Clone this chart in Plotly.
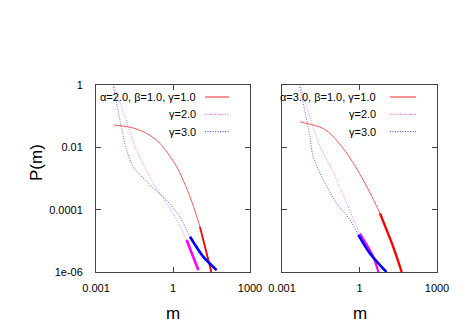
import plotly.graph_objects as go

# ---- data ----
# left panel: alpha=2.0, beta=1.0
l_g1_x = [0.005, 0.016, 0.03, 0.069, 0.15, 0.31, 1.38, 4.6, 11.2, 27.6, 31]
l_g1_y = [0.052, 0.046, 0.041, 0.032, 0.022, 0.0135, 0.0024, 2.6e-4, 2.8e-5, 1.5e-6, 1e-6]
l_g2_x = [0.0048, 0.016, 0.038, 0.17, 1.0, 3.4, 9.7]
l_g2_y = [1.05, 0.063, 0.0081, 7.1e-4, 7.6e-5, 1.07e-5, 1.15e-6]
l_g3_x = [0.0046, 0.015, 0.028, 0.126, 0.56, 1.86, 4.6, 15, 50]
l_g3_y = [1.05, 0.0093, 0.0024, 6.2e-4, 2.0e-4, 5.9e-5, 1.35e-5, 3.1e-6, 1.15e-6]

# right panel: alpha=3.0, beta=1.0
r_g1_x = [0.005, 0.016, 0.035, 0.072, 0.32, 1.4, 6.2, 20, 43]
r_g1_y = [0.066, 0.052, 0.042, 0.028, 0.0065, 8.9e-4, 7.6e-5, 6.5e-6, 1e-6]
r_g2_x = [0.0049, 0.03, 0.1, 0.32, 1.04, 3.4, 5.4]
r_g2_y = [1.05, 0.0105, 0.0015, 1.6e-4, 1.7e-5, 3.1e-6, 1e-6]
r_g3_x = [0.0047, 0.012, 0.016, 0.04, 0.13, 0.43, 0.9, 2.5, 11]
r_g3_y = [1.05, 0.022, 0.005, 8.9e-4, 1.6e-4, 4.7e-5, 1.55e-5, 4e-6, 1e-6]

x_tickvals = [0.001, 1, 1000]
x_ticktext = ["0.001", "1", "1000"]
y_tickvals = [1e-6, 1e-4, 1e-2, 1]
y_ticktext = ["1e-06", "0.0001", "0.01", "1"]

legend_left = ["α=2.0, β=1.0, γ=1.0", "γ=2.0", "γ=3.0"]
legend_right = ["α=3.0, β=1.0, γ=1.0", "γ=2.0", "γ=3.0"]

RED, MAG, BLUE = "#ff2a2a", "#ff44ff", "#3030ff"
DOT = "1px,1.5px"

fig = go.Figure()

def add_series(x, y, color, dash, xa, ya, tail_from, tail_w, tail_color):
    fig.add_trace(go.Scatter(x=x, y=y, mode="lines", xaxis=xa, yaxis=ya,
                             line=dict(color=color, width=0.8, dash=dash,
                                       shape="spline", smoothing=0.8),
                             showlegend=False, hoverinfo="skip"))
    tx = [a for a in x if a >= tail_from]
    ty = [b for a, b in zip(x, y) if a >= tail_from]
    fig.add_trace(go.Scatter(x=tx, y=ty, mode="lines", xaxis=xa, yaxis=ya,
                             line=dict(color=tail_color, width=tail_w,
                                       shape="spline", smoothing=0.8),
                             showlegend=False, hoverinfo="skip"))

add_series(l_g1_x, l_g1_y, RED, "solid", "x", "y", 11.2, 1.8, "#ff0000")
add_series(l_g2_x, l_g2_y, MAG, DOT, "x", "y", 3.4, 2.6, "#ff00ff")
add_series(l_g3_x, l_g3_y, BLUE, DOT, "x", "y", 4.6, 2.6, "#0000ff")
add_series(r_g1_x, r_g1_y, RED, "solid", "x2", "y2", 6.2, 2.4, "#ff0000")
add_series(r_g2_x, r_g2_y, MAG, DOT, "x2", "y2", 1.04, 2.2, "#ff00ff")
add_series(r_g3_x, r_g3_y, BLUE, DOT, "x2", "y2", 0.9, 2.6, "#0000ff")

W, H = 467, 327
ydom = [(H - 272) / H, (H - 85) / H]
FONT = "Liberation Sans, Arial, sans-serif"

axis_common = dict(type="log", showgrid=False, zeroline=False, showline=True,
                   linecolor="#444", linewidth=1, mirror="allticks", automargin=False,
                   ticks="inside", ticklen=5, tickcolor="#444",
                   tickfont=dict(family=FONT, size=11, color="black"))

fig.update_layout(
    width=W, height=H, margin=dict(l=0, r=0, t=0, b=0, autoexpand=False),
    paper_bgcolor="white", plot_bgcolor="white",
    xaxis=dict(domain=[96 / W, 250 / W], range=[-3, 3], tickvals=x_tickvals,
               ticktext=x_ticktext, anchor="y", ticklabelstandoff=6, **axis_common),
    yaxis=dict(domain=ydom, range=[-6, 0], tickvals=y_tickvals,
               ticktext=y_ticktext, anchor="x", ticklabelstandoff=10, **axis_common),
    xaxis2=dict(domain=[282 / W, 437 / W], range=[-3, 3], tickvals=x_tickvals,
                ticktext=x_ticktext, anchor="y2", ticklabelstandoff=6, **axis_common),
    yaxis2=dict(domain=ydom, range=[-6, 0], tickvals=y_tickvals,
                ticktext=y_ticktext, anchor="x2", showticklabels=False, **axis_common),
)

# axis titles
fig.add_annotation(text="P(m)", x=36 / W, y=(H - 163) / H, xref="paper", yref="paper",
                   xanchor="center", yanchor="middle",
                   showarrow=False, textangle=-90, font=dict(family=FONT, size=17, color="black"))
for cx in (173, 359.5):
    fig.add_annotation(text="m", x=cx / W, y=(H - 313) / H, xref="paper", yref="paper",
                       xanchor="center", yanchor="middle",
                       showarrow=False, font=dict(family=FONT, size=17, color="black"))

# in-panel legends (gnuplot style: text right-aligned, sample to the right)
styles = [(RED, "solid"), (MAG, DOT), (BLUE, DOT)]
for labels, tx, lx0, lx1 in ((legend_left, 198, 205, 229), (legend_right, 378, 390, 416)):
    for i, (lab, (col, dash)) in enumerate(zip(labels, styles)):
        yy = 97 + i * 17.3
        fig.add_annotation(text=lab, x=tx / W, y=(H - yy) / H, xref="paper", yref="paper",
                           xanchor="right", yanchor="middle", showarrow=False,
                           font=dict(family=FONT, size=11, color="black"))
        fig.add_shape(type="line", xref="paper", yref="paper",
                      x0=lx0 / W, x1=lx1 / W, y0=(H - yy) / H, y1=(H - yy) / H,
                      line=dict(color=col, width=1, dash=dash))

fig.write_html("out.html", config={"displayModeBar": False, "staticPlot": True},
               post_script="document.body.style.margin='0';document.body.style.overflow='hidden';")
